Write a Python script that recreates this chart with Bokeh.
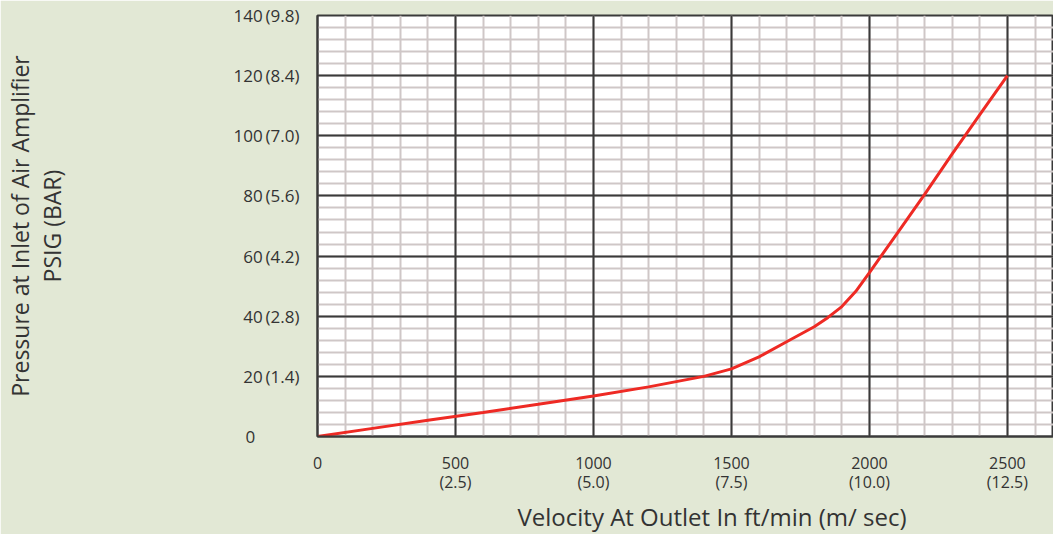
from bokeh.plotting import figure
from bokeh.models import FixedTicker, Range1d, Title, Grid
from bokeh.embed import file_html
from bokeh.resources import INLINE

# ---- data ----
velocity_fpm = [0, 200, 400, 600, 800, 1000, 1200, 1400, 1500, 1600, 1700, 1800,
                1850, 1900, 1950, 2000, 2100, 2200, 2300, 2400, 2500]
pressure_psig = [0, 2.7, 5.4, 8.0, 10.7, 13.5, 16.5, 20.0, 22.5, 26.5, 31.5, 36.5,
                 39.6, 43.2, 48.2, 54.5, 67.5, 80.5, 94.0, 107.0, 120.0]

x_ticks = [0, 500, 1000, 1500, 2000, 2500]
x_tick_labels = ["0", "500\n(2.5)", "1000\n(5.0)", "1500\n(7.5)", "2000\n(10.0)", "2500\n(12.5)"]
y_ticks = [0, 20, 40, 60, 80, 100, 120, 140]
y_tick_labels = ["0" + "\u00a0" * 10, "20\u2009(1.4)", "40\u2009(2.8)", "60\u2009(4.2)", "80\u2009(5.6)",
                 "100\u2009(7.0)", "120\u2009(8.4)", "140\u2009(9.8)"]
x_minor = list(range(0, 2700, 100))
y_minor = list(range(0, 144, 4))

x_title = "Velocity At Outlet In ft/min (m/ sec)"
y_title = "Pressure at Inlet of Air Amplifier\nPSIG (BAR)"

BG = "#e2e8d5"
FONT = "Open Sans"
TXT = "#333333"
MAJOR = "#3a3a3a"
MINOR = "#cfc7c7"

p = figure(width=1053, height=534, output_backend="svg", toolbar_location=None,
           x_range=Range1d(0, 2667), y_range=Range1d(0, 140),
           min_border_left=315, min_border_right=0, min_border_top=15, min_border_bottom=98)
p.background_fill_color = "white"
p.border_fill_color = BG
p.outline_line_color = MAJOR
p.outline_line_width = 2

p.xaxis.ticker = FixedTicker(ticks=x_ticks)
p.yaxis.ticker = FixedTicker(ticks=y_ticks)
p.xgrid.ticker = FixedTicker(ticks=x_ticks)
p.ygrid.ticker = FixedTicker(ticks=y_ticks)
p.xaxis.major_label_overrides = dict(zip(x_ticks, x_tick_labels))
p.yaxis.major_label_overrides = dict(zip(y_ticks, y_tick_labels))

for g in (p.xgrid, p.ygrid):
    g.grid_line_color = MAJOR
    g.grid_line_width = 2

# minor grid lines drawn first (level "image"), major lines on top
p.add_layout(Grid(dimension=0, ticker=FixedTicker(ticks=x_minor), grid_line_color=MINOR,
                  grid_line_width=2, level="image"))
p.add_layout(Grid(dimension=1, ticker=FixedTicker(ticks=y_minor), grid_line_color=MINOR,
                  grid_line_width=2, level="image"))

for ax in (p.xaxis, p.yaxis):
    ax.axis_line_color = MAJOR
    ax.axis_line_width = 2
    ax.major_tick_line_color = None
    ax.minor_tick_line_color = None
    ax.major_tick_out = 0
    ax.minor_tick_out = 0
    ax.major_label_text_font = FONT
    ax.major_label_text_color = TXT
    ax.axis_label_text_font = FONT
    ax.axis_label_text_font_size = "23px"
    ax.axis_label_text_font_style = "normal"
    ax.axis_label_text_color = TXT

p.yaxis.major_label_text_font_size = "17px"
p.xaxis.major_label_text_font_size = "16px"
p.xaxis.major_label_text_line_height = 0.9
p.yaxis.major_label_standoff = 18
p.xaxis.major_label_standoff = 15
p.yaxis.axis_label = y_title
p.yaxis.axis_label_text_line_height = 1.0
p.yaxis.axis_label_standoff = 163

t = Title(text=x_title, align="left", offset=200, text_font=FONT, standoff=2,
          text_font_size="24px", text_font_style="normal", text_color=TXT)
p.add_layout(t, "below")

p.line(velocity_fpm, pressure_psig, line_color="#ee2a24", line_width=3)

open("out.html", "w").write(file_html(p, INLINE))
